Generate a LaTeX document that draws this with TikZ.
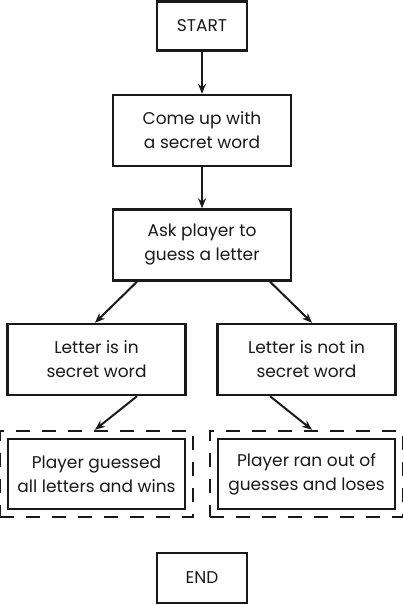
\documentclass[tikz,border=0pt]{standalone}
\usepackage{fontspec}
\setmainfont{Poppins}
\usetikzlibrary{arrows.meta,positioning}

\begin{document}
\begin{tikzpicture}[x=1pt,y=1pt,>={Stealth[length=10pt,width=8pt]},semithick]
\tikzstyle{stepbox}=[draw=black!90,line width=2.4pt,fill=white,text=black!90,align=center,
  minimum width=178pt,minimum height=71pt,inner sep=0pt,font=\fontsize{17}{24}\selectfont]
\tikzstyle{endbox}=[stepbox,minimum width=90pt,minimum height=49pt]
\tikzstyle{frame}=[draw=black!90,line width=2.4pt,dash pattern=on 14pt off 12pt,
  minimum width=193pt,minimum height=86pt,inner sep=0pt]
\tikzstyle{arrow}=[->,draw=black!90,line width=2pt]
\useasboundingbox (0,0) rectangle (403,605);
\node[endbox] (start) at (202,579) {START};
\node[stepbox] (word) at (202,474.5) {Come up with\\a secret word};
\node[stepbox] (ask) at (202,360) {Ask player to\\guess a letter};
\node[stepbox] (in) at (96.5,245.5) {Letter is in\\secret word};
\node[stepbox] (notin) at (306.5,245.5) {Letter is not in\\secret word};
\node[frame] (winframe) at (96.5,131) {};
\node[frame] (loseframe) at (306.5,131) {};
\node[stepbox,minimum width=177pt,minimum height=70pt] (win) at (96.5,131) {Player guessed\\all letters and wins};
\node[stepbox,minimum width=177pt,minimum height=70pt] (lose) at (306.5,131) {Player ran out of\\guesses and loses};
\node[endbox,minimum height=50pt] (end) at (202,27) {END};
\draw[arrow] (start) -- (word);
\draw[arrow] (word) -- (ask);
\draw[arrow] ([xshift=-65pt]ask.south) -- ([xshift=-1.5pt]in.north);
\draw[arrow] ([xshift=68pt]ask.south) -- ([xshift=5.5pt]notin.north);
\draw[arrow] ([xshift=40.5pt]in.south) -- ([xshift=-1.5pt]winframe.north);
\draw[arrow] ([xshift=-36.5pt]notin.south) -- ([xshift=5.5pt]loseframe.north);
\end{tikzpicture}
\end{document}
